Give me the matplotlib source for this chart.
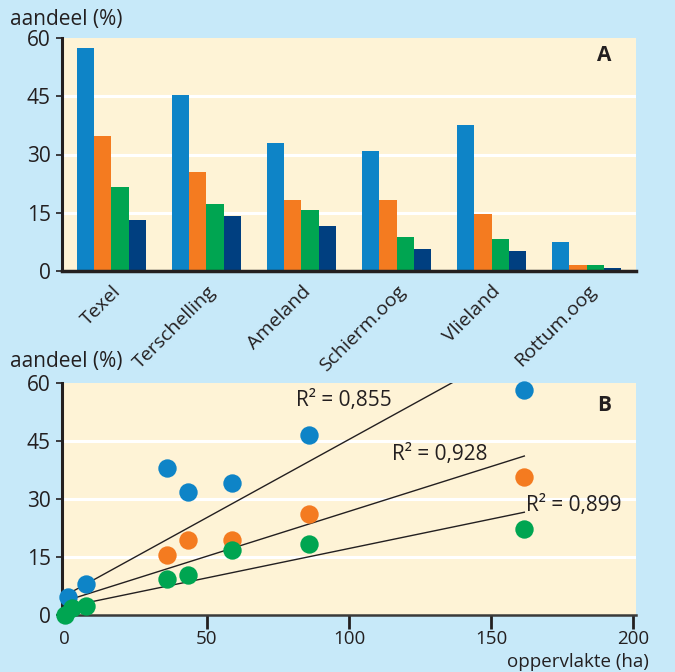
import matplotlib
matplotlib.use("Agg")
import matplotlib.pyplot as plt
import numpy as np

# data panel A (aandeel per eiland, %)
islands = ["Texel", "Terschelling", "Ameland", "Schierm.oog", "Vlieland", "Rottum.oog"]
blue_vals = [57.4, 45.4, 33.0, 30.9, 37.6, 7.5]
orange_vals = [34.8, 25.5, 18.3, 18.3, 14.7, 1.5]
green_vals = [21.6, 17.3, 15.7, 8.8, 8.2, 1.5]
navy_vals = [13.1, 14.2, 11.6, 5.7, 5.2, 0.8]

# data panel B (oppervlakte in ha vs aandeel)
blue_x = [161.7, 85.9, 58.7, 43.4, 35.9, 7.3, 1.1]
blue_y = [58.2, 46.5, 34.1, 31.7, 37.9, 8.0, 4.6]
orange_x = [161.7, 85.9, 58.7, 43.4, 35.9]
orange_y = [35.6, 26.2, 19.5, 19.3, 15.5]
green_x = [161.7, 85.9, 58.7, 43.4, 35.9, 7.3, 2.4, 0.0]
green_y = [22.2, 18.3, 16.9, 10.3, 9.2, 2.2, 1.8, 0.0]

# trendlijnen (helling, snijpunt) en R2
fits = [(0.404, 5.0), (0.232, 3.6), (0.152, 2.0)]
r2_labels = ["R² = 0,855", "R² = 0,928", "R² = 0,899"]
r2_pos = [(81.5, 55.4), (115.0, 41.5), (162.3, 28.4)]

blue = "#0e84c7"
orange = "#f47b20"
green = "#00a551"
navy = "#003f80"
panel = "#fef3d6"
outer = "#c7e9f9"
textc = "#231f20"

fs = 15

plt.rcParams["font.family"] = ["Open Sans", "DejaVu Sans"]
plt.rcParams["text.color"] = textc
plt.rcParams["xtick.color"] = textc
plt.rcParams["ytick.color"] = textc

fig = plt.figure(figsize=(6.75, 6.72), dpi=100)
fig.patch.set_facecolor(outer)

axA = fig.add_axes([62 / 675, 1 - 271 / 672, 574 / 675, 233 / 672])
axB = fig.add_axes([62 / 675, 1 - 615 / 672, 574 / 675, 232 / 672])


def style(ax):
    ax.set_facecolor(panel)
    ax.spines["top"].set_visible(False)
    ax.spines["right"].set_visible(False)
    ax.spines["left"].set_linewidth(2.2)
    ax.spines["left"].set_color(textc)
    ax.set_ylim(0, 60)
    ax.set_yticks([0, 15, 30, 45, 60])
    ax.set_yticklabels(["0", "15", "30", "45", "60"])
    ax.tick_params(axis="y", direction="out", length=4, width=1.2, pad=4, labelsize=fs)
    for v in [15, 30, 45]:
        ax.axhline(v, color="white", lw=2.2, zorder=0.5)


# ---- panel A
style(axA)
x = np.arange(len(islands))
w = 0.183
axA.bar(x - 1.5 * w, blue_vals, w, color=blue, zorder=2)
axA.bar(x - 0.5 * w, orange_vals, w, color=orange, zorder=2)
axA.bar(x + 0.5 * w, green_vals, w, color=green, zorder=2)
axA.bar(x + 1.5 * w, navy_vals, w, color=navy, zorder=2)
axA.set_xlim(-0.52, 5.52)
axA.spines["bottom"].set_linewidth(2.5)
axA.spines["bottom"].set_color(textc)
axA.set_xticks(x)
axA.set_xticklabels(islands, rotation=45, ha="right", rotation_mode="anchor")
axA.tick_params(axis="x", length=0, pad=8, labelsize=14)
axA.text(0.945, 0.925, "A", transform=axA.transAxes, fontsize=fs, fontweight="bold",
         ha="center", va="center")
fig.text(10 / 675, 1 - 20 / 672, "aandeel (%)", fontsize=fs, ha="left", va="center")

# ---- panel B
style(axB)
axB.set_xlim(-1, 201)
axB.spines["bottom"].set_linewidth(1.8)
axB.spines["bottom"].set_color("#3a3a3a")
axB.set_xticks([0, 50, 100, 150, 200])
axB.tick_params(axis="x", direction="out", length=10, width=2, pad=1, labelsize=13.5)
axB.xaxis.get_major_ticks()[0].tick1line.set_visible(False)

xs = np.array([0, 161.7])
for (a, b) in fits:
    axB.plot(xs, a * xs + b, color=textc, lw=1.0, zorder=2)

axB.scatter(blue_x, blue_y, s=175, color=blue, zorder=3, clip_on=False, linewidths=0)
axB.scatter(orange_x, orange_y, s=175, color=orange, zorder=3, clip_on=False, linewidths=0)
axB.scatter(green_x, green_y, s=175, color=green, zorder=4, clip_on=False, linewidths=0)

for lab, (px, py) in zip(r2_labels, r2_pos):
    axB.text(px, py, lab, fontsize=fs, ha="left", va="center")

axB.text(0.945, 0.905, "B", transform=axB.transAxes, fontsize=fs, fontweight="bold",
         ha="center", va="center")
fig.text(10 / 675, 1 - 362 / 672, "aandeel (%)", fontsize=fs, ha="left", va="center")
fig.text(649 / 675, 1 - 662 / 672, "oppervlakte (ha)", fontsize=13.5, ha="right", va="center")

fig.savefig("out.png", dpi=100, facecolor=outer)
